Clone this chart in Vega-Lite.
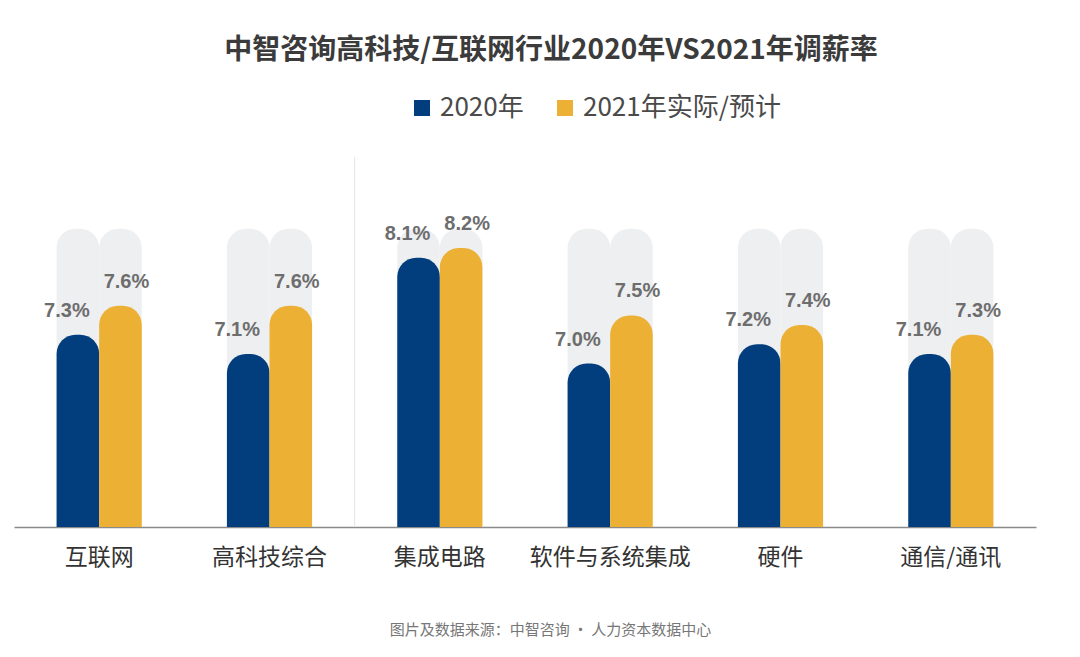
{
  "$schema": "https://vega.github.io/schema/vega-lite/v6.json",
  "autosize": {"type": "none"},
  "width": 1022,
  "height": 377,
  "padding": {"left": 14, "top": 150, "right": 44, "bottom": 130},
  "background": "white",
  "config": {"view": {"stroke": null}, "font": "Noto Sans CJK SC"},
  "title": {
    "text": "中智咨询高科技/互联网行业2020年VS2021年调薪率",
    "fontSize": 28,
    "fontWeight": "bold",
    "color": "#3b3b3b",
    "anchor": "middle",
    "offset": 30,
    "dx": 26,
    "font": "Noto Sans CJK SC"
  },
  "data": {
    "values": [
      {"cat": "互联网", "series": "2020年", "value": 0.073},
      {"cat": "互联网", "series": "2021年实际/预计", "value": 0.076},
      {"cat": "高科技综合", "series": "2020年", "value": 0.071},
      {"cat": "高科技综合", "series": "2021年实际/预计", "value": 0.076},
      {"cat": "集成电路", "series": "2020年", "value": 0.081},
      {"cat": "集成电路", "series": "2021年实际/预计", "value": 0.082},
      {"cat": "软件与系统集成", "series": "2020年", "value": 0.070},
      {"cat": "软件与系统集成", "series": "2021年实际/预计", "value": 0.075},
      {"cat": "硬件", "series": "2020年", "value": 0.072},
      {"cat": "硬件", "series": "2021年实际/预计", "value": 0.074},
      {"cat": "通信/通讯", "series": "2020年", "value": 0.071},
      {"cat": "通信/通讯", "series": "2021年实际/预计", "value": 0.073}
    ]
  },
  "encoding": {
    "x": {
      "field": "cat",
      "type": "nominal",
      "sort": null,
      "scale": {"paddingInner": 0, "paddingOuter": 0},
      "axis": {
        "title": "图片及数据来源：中智咨询 · 人力资本数据中心",
        "titleFontSize": 15,
        "titleColor": "#777777",
        "titleFontWeight": "normal",
        "titlePadding": 53,
        "titleX": 536,
        "labelFontSize": 23,
        "labelColor": "#333333",
        "labelPadding": 19,
        "labelAngle": 0,
        "ticks": false,
        "domainColor": "#8a8a8a",
        "domainWidth": 1.5
      }
    }
  },
  "layer": [
    {
      "mark": {"type": "bar", "color": "#eeeff1", "cornerRadiusTopLeft": 19, "cornerRadiusTopRight": 19},
      "encoding": {
        "xOffset": {"field": "series", "type": "nominal", "sort": null, "scale": {"paddingInner": 0, "paddingOuter": 1.27}},
        "y": {"datum": 0.084, "type": "quantitative", "scale": {"domain": [0.053, 0.0922], "zero": false, "nice": false}, "axis": null},
        "y2": {"datum": 0.053}
      }
    },
    {
      "transform": [{"filter": "datum.cat === '集成电路' && datum.series === '2020年'"}],
      "mark": {"type": "rule", "color": "#e4e4e4", "strokeWidth": 1},
      "encoding": {
        "x": {"field": "cat", "type": "nominal", "sort": null, "bandPosition": 0},
        "y": {"datum": 0.0915, "type": "quantitative"},
        "y2": {"datum": 0.053}
      }
    },
    {
      "mark": {"type": "bar", "cornerRadiusTopLeft": 19, "cornerRadiusTopRight": 19},
      "encoding": {
        "xOffset": {"field": "series", "type": "nominal", "sort": null},
        "y": {"field": "value", "type": "quantitative"},
        "y2": {"datum": 0.053},
        "color": {
          "field": "series",
          "type": "nominal",
          "sort": null,
          "scale": {"domain": ["2020年", "2021年实际/预计"], "range": ["#023e7d", "#ecb035"]},
          "legend": {
            "orient": "none",
            "legendX": 395,
            "legendY": -55,
            "direction": "horizontal",
            "title": null,
            "symbolType": "square",
            "symbolSize": 256,
            "symbolStrokeWidth": 0,
            "labelFontSize": 26,
            "labelLimit": 400,
            "labelColor": "#4a4a4a",
            "labelFont": "Noto Sans CJK SC",
            "columnPadding": 28,
            "labelOffset": 5
          }
        }
      }
    },
    {
      "transform": [{"filter": "datum.series === '2020年'"}],
      "mark": {"type": "text", "dx": -11, "dy": -24, "fontSize": 20, "fontWeight": "bold", "color": "#6d6d6d", "font": "Liberation Sans", "baseline": "middle"},
      "encoding": {
        "xOffset": {"field": "series", "type": "nominal", "sort": null},
        "y": {"field": "value", "type": "quantitative"},
        "text": {"field": "value", "type": "quantitative", "format": ".1%"}
      }
    },
    {
      "transform": [{"filter": "datum.series === '2021年实际/预计'"}],
      "mark": {"type": "text", "dx": 6, "dy": -24, "fontSize": 20, "fontWeight": "bold", "color": "#6d6d6d", "font": "Liberation Sans", "baseline": "middle"},
      "encoding": {
        "xOffset": {"field": "series", "type": "nominal", "sort": null},
        "y": {"field": "value", "type": "quantitative"},
        "text": {"field": "value", "type": "quantitative", "format": ".1%"}
      }
    }
  ]
}
